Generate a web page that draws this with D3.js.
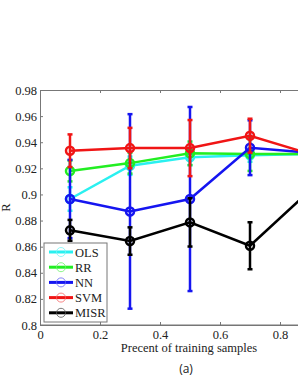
<!DOCTYPE html>
<html>
<head>
<meta charset="utf-8">
<script src="https://cdn.jsdelivr.net/npm/d3@7"></script>
<style>
  body { margin: 0; background: #fff; }
  svg { display: block; }
</style>
</head>
<body>
<div id="chart"></div>
<script>
// percent of training samples
const xValues = [0.1, 0.3, 0.5, 0.7, 0.9];
// mean R and error bar half-height for each method
const olsR = [0.8965, 0.922, 0.9284, 0.930, 0.931];
const olsErr = [0.009, 0.007, 0.006, 0.005, 0.005];
const rrR = [0.918, 0.924, 0.9315, 0.931, 0.931];
const rrErr = [0.008, 0.008, 0.009, 0.013, 0.008];
const nnR = [0.8965, 0.887, 0.8965, 0.9358, 0.932];
const nnErr = [0.030, 0.0745, 0.0705, 0.021, 0.010];
const svmR = [0.9335, 0.9355, 0.9355, 0.945, 0.931];
const svmErr = [0.0125, 0.0155, 0.0215, 0.013, 0.010];
const misrR = [0.8725, 0.8643, 0.8786, 0.8607, 0.903];
const misrErr = [0.008, 0.0105, 0.0185, 0.018, 0.015];
const methodNames = ["OLS", "RR", "NN", "SVM", "MISR"];
const methodColors = ["#2af0f0", "#22ee22", "#1515f0", "#f01515", "#000000"];
const xTicks = [0, 0.2, 0.4, 0.6, 0.8];
const yTicks = [0.8, 0.82, 0.84, 0.86, 0.88, 0.9, 0.92, 0.94, 0.96, 0.98];

const series = [
  {means: olsR, errs: olsErr},
  {means: rrR, errs: rrErr},
  {means: nnR, errs: nnErr},
  {means: svmR, errs: svmErr},
  {means: misrR, errs: misrErr}
].map((s, i) => ({
  name: methodNames[i],
  color: methodColors[i],
  points: xValues.map((x, j) => ({x: x, r: s.means[j], e: s.errs[j]}))
}));

const width = 298, height = 385;
const margin = {top: 90, left: 40, bottom: 325, right: 340};

const svg = d3.select("#chart").append("svg")
  .attr("width", width)
  .attr("height", height);

const xScale = d3.scaleLinear().domain([0, 1]).range([margin.left, margin.right]);
const yScale = d3.scaleLinear().domain([0.8, 0.98]).range([margin.bottom, margin.top]);

const serif = "'Liberation Serif', 'Times New Roman', serif";
const axisColor = "#777";

// axes box with inward ticks
const xAxis = svg.append("g")
  .attr("transform", "translate(0," + margin.bottom + ")")
  .call(d3.axisBottom(xScale).tickValues(xTicks).tickSizeInner(-3).tickSizeOuter(0)
    .tickPadding(5).tickFormat(d3.format("")));
const xTop = svg.append("g")
  .attr("transform", "translate(0," + margin.top + ")")
  .call(d3.axisTop(xScale).tickValues(xTicks).tickSizeInner(-3).tickSizeOuter(0)
    .tickFormat(""));
const yAxis = svg.append("g")
  .attr("transform", "translate(" + margin.left + ",0)")
  .call(d3.axisLeft(yScale).tickValues(yTicks).tickSizeInner(-3).tickSizeOuter(0)
    .tickPadding(3).tickFormat(d => d3.format("")(+d.toFixed(2))));
[xAxis, xTop, yAxis].forEach(a => {
  a.attr("font-family", serif).attr("font-size", 12.5);
  a.selectAll("path, line").attr("stroke", axisColor);
  a.selectAll("text").attr("fill", "#222");
});
// axis paths stop at the plot edge, extend top line past the picture
svg.append("line")
  .attr("x1", margin.left).attr("x2", margin.right)
  .attr("y1", margin.bottom).attr("y2", margin.bottom)
  .attr("stroke", axisColor);

// axis labels
svg.append("text")
  .attr("x", 189)
  .attr("y", 352)
  .attr("text-anchor", "middle")
  .style("font-family", serif)
  .style("font-size", "12.5px")
  .attr("fill", "#222")
  .text("Precent of training samples");
svg.append("text")
  .attr("transform", "translate(10," + ((margin.top + margin.bottom) / 2) + ") rotate(-90)")
  .attr("text-anchor", "middle")
  .style("font-family", serif)
  .style("font-size", "12.5px")
  .attr("fill", "#222")
  .text("R");
svg.append("text")
  .attr("x", 186)
  .attr("y", 373)
  .attr("text-anchor", "middle")
  .style("font-family", "'Open Sans', sans-serif")
  .style("font-size", "12px")
  .attr("fill", "#222")
  .text("(a)");

// lines, error bars, markers
const line = d3.line()
  .x(d => xScale(d.x))
  .y(d => yScale(d.r));

series.forEach(s => {
  const g = svg.append("g");
  g.append("path")
    .attr("d", line(s.points))
    .attr("fill", "none")
    .attr("stroke", s.color)
    .attr("stroke-width", 2.5);
  g.selectAll(".bar").data(s.points).enter().append("line")
    .attr("x1", d => xScale(d.x)).attr("x2", d => xScale(d.x))
    .attr("y1", d => yScale(d.r - d.e)).attr("y2", d => yScale(d.r + d.e))
    .attr("stroke", s.color).attr("stroke-width", 2.5);
  [-1, 1].forEach(sign => {
    g.selectAll(".cap").data(s.points).enter().append("line")
      .attr("x1", d => xScale(d.x) - 2.5).attr("x2", d => xScale(d.x) + 2.5)
      .attr("y1", d => yScale(d.r + sign * d.e)).attr("y2", d => yScale(d.r + sign * d.e))
      .attr("stroke", s.color).attr("stroke-width", 2.5);
  });
  g.selectAll("circle").data(s.points).enter().append("circle")
    .attr("cx", d => xScale(d.x))
    .attr("cy", d => yScale(d.r))
    .attr("r", 4)
    .attr("fill", "none")
    .attr("stroke", s.color)
    .attr("stroke-width", 2.5);
});

// legend
const legend = svg.append("g").attr("transform", "translate(44,243)");
legend.append("rect")
  .attr("width", 63).attr("height", 79)
  .attr("fill", "#fff")
  .attr("stroke", axisColor)
  .attr("stroke-width", 1);
series.forEach((s, i) => {
  const y = 9 + i * 15.2;
  legend.append("line")
    .attr("x1", 5).attr("x2", 29).attr("y1", y).attr("y2", y)
    .attr("stroke", s.color).attr("stroke-width", 3);
  legend.append("circle")
    .attr("cx", 17).attr("cy", y).attr("r", 4.5)
    .attr("fill", "none")
    .attr("stroke", d3.interpolateRgb(s.color, "#fff")(0.35))
    .attr("stroke-width", 0.8);
  legend.append("text")
    .attr("x", 31).attr("y", y + 4.5)
    .style("font-family", serif)
    .style("font-size", "12.5px")
    .attr("fill", "#222")
    .text(s.name);
});
</script>
</body>
</html>
